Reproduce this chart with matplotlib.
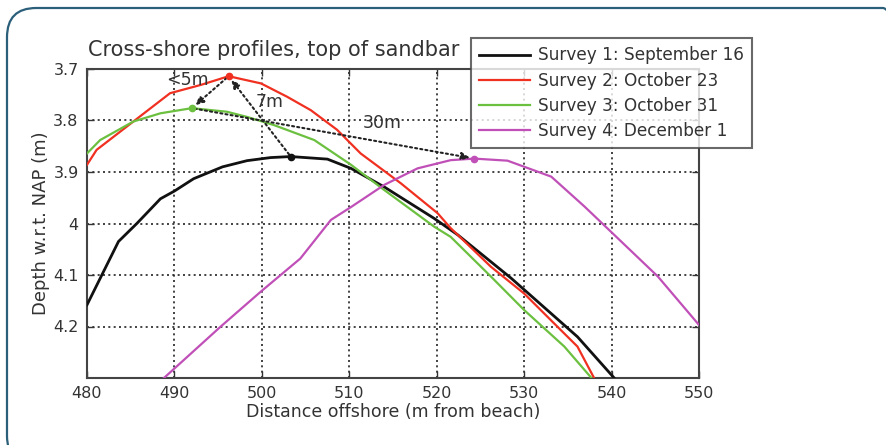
import matplotlib
matplotlib.use("Agg")
import matplotlib.pyplot as plt
from matplotlib.patches import FancyBboxPatch

# ---- data ----
s1_x = [480, 483.6, 485.7, 488.4, 490.0, 492.2, 495.5, 498.3, 501.0, 503.3, 507.5, 510.2,
        514.0, 519.7, 522.4, 528.5, 536.1, 540.3]
s1_y = [4.158, 4.035, 4.0, 3.952, 3.937, 3.913, 3.890, 3.878, 3.872, 3.870, 3.875, 3.893,
        3.929, 3.990, 4.022, 4.106, 4.220, 4.300]

s2_x = [480, 481.1, 485.3, 489.5, 493.0, 496.2, 499.9, 502.9, 505.6, 508.6, 511.3,
        515.9, 520.1, 521.6, 526.2, 530.0, 534.2, 536.1, 538.0]
s2_y = [3.886, 3.857, 3.802, 3.747, 3.731, 3.714, 3.728, 3.754, 3.780, 3.818, 3.864,
        3.922, 3.980, 4.009, 4.084, 4.136, 4.207, 4.239, 4.300]

s3_x = [480, 481.5, 485.3, 488.4, 492.0, 496.0, 498.3, 501.4, 506.0, 510.2, 514.0,
        519.7, 521.6, 526.2, 530.0, 534.6, 537.7]
s3_y = [3.864, 3.838, 3.802, 3.786, 3.776, 3.783, 3.793, 3.809, 3.838, 3.886, 3.935,
        4.006, 4.026, 4.103, 4.168, 4.239, 4.300]

s4_x = [488.8, 495.3, 499.9, 504.4, 507.9, 510.2, 514.0, 517.8, 521.6, 524.3, 528.1,
        533.1, 536.9, 540.3, 545.3, 550.0]
s4_y = [4.300, 4.200, 4.132, 4.068, 3.993, 3.968, 3.925, 3.893, 3.877, 3.874, 3.878,
        3.909, 3.967, 4.022, 4.103, 4.197]

labels = ["Survey 1: September 16", "Survey 2: October 23",
          "Survey 3: October 31", "Survey 4: December 1"]
colors = ["#111111", "#f03020", "#6cc040", "#c050b8"]

# peaks (tops of sandbar)
peak_x = [503.3, 496.2, 492.0, 524.3]
peak_y = [3.870, 3.714, 3.776, 3.874]

# annotations: (text, from-peak index, to-peak index, text x, text y)
ann_text = ["<5m", "7m", "30m"]
ann_from = [1, 0, 2]
ann_to = [2, 1, 3]
ann_tx = [491.5, 500.9, 513.8]
ann_ty = [3.722, 3.765, 3.804]

xticks = [480, 490, 500, 510, 520, 530, 540, 550]
yticks = [3.7, 3.8, 3.9, 4.0, 4.1, 4.2]
ytick_labels = ["3.7", "3.8", "3.9", "4", "4.1", "4.2"]

title = "Cross-shore profiles, top of sandbar"
xlabel = "Distance offshore (m from beach)"
ylabel = "Depth w.r.t. NAP (m)"

# ---- figure ----
txtc = "#333333"
plt.rcParams['font.family'] = ['DejaVu Sans']
fig = plt.figure(figsize=(8.86, 4.45), dpi=100)
fig.patch.set_facecolor("white")

# rounded frame
frame = FancyBboxPatch((7 / 886, -20 / 445), 905 / 886, (445 - 8 + 20) / 445,
                       boxstyle="round,pad=0,rounding_size=0.033",
                       transform=fig.transFigure, fill=False,
                       edgecolor="#2b5f7a", linewidth=1.6, clip_on=False,
                       mutation_aspect=886 / 445)
fig.patches.append(frame)

ax = fig.add_axes([87 / 886, 1 - 378 / 445, (699 - 87) / 886, (378 - 69) / 445])

xs = [s1_x, s2_x, s3_x, s4_x]
ys = [s1_y, s2_y, s3_y, s4_y]
lws = [2.0, 1.6, 1.6, 1.6]
handles = []
for x, y, c, lw, lab in zip(xs, ys, colors, lws, labels):
    h, = ax.plot(x, y, color=c, lw=lw, label=lab, zorder=3)
    handles.append(h)

for px, py, c in zip(peak_x, peak_y, colors):
    ax.plot(px, py, 'o', color=c, ms=4.5, zorder=5)

for t, i0, i1, tx, ty in zip(ann_text, ann_from, ann_to, ann_tx, ann_ty):
    ax.annotate("", xy=(peak_x[i1], peak_y[i1]), xytext=(peak_x[i0], peak_y[i0]),
                arrowprops=dict(arrowstyle="-|>,head_length=0.5,head_width=0.22",
                                color="#222222", lw=1.5, linestyle=(0, (1.0, 1.5)),
                                shrinkA=2, shrinkB=3),
                zorder=4)
    ax.text(tx, ty, t, fontsize=12.5, color=txtc, ha="center", va="center", zorder=6)

ax.set_xlim(480, 550)
ax.set_ylim(4.3, 3.7)
ax.set_xticks(xticks)
ax.set_xticklabels([str(v) for v in xticks])
ax.set_yticks(yticks)
ax.set_yticklabels(ytick_labels)
ax.tick_params(direction="in", top=True, right=True, length=5, width=1,
               labelsize=11.5, labelcolor=txtc, color="#333333", pad=6)
ax.grid(True, color="#222222", linestyle=(0, (1.2, 2.0)), linewidth=1.2)
for s in ax.spines.values():
    s.set_color("#444444")
    s.set_linewidth(1.5)

ax.set_xlabel(xlabel, fontsize=12.5, color=txtc, labelpad=1)
ax.set_ylabel(ylabel, fontsize=13, color=txtc, labelpad=2)
fig.text(88 / 886, 1 - 50 / 445, title, fontsize=15, color=txtc, ha="left", va="center")

leg = fig.legend(handles=handles, labels=labels, loc="upper left",
                 bbox_to_anchor=(471 / 886, 1 - 38 / 445), bbox_transform=fig.transFigure,
                 fontsize=12.2, frameon=True, fancybox=False, borderaxespad=0,
                 handlelength=3.0, handletextpad=0.45, labelspacing=0.42,
                 borderpad=0.5)
leg.get_frame().set_edgecolor("#444444")
leg.get_frame().set_linewidth(1.5)
for t in leg.get_texts():
    t.set_color(txtc)

fig.savefig("out.png", dpi=100)
